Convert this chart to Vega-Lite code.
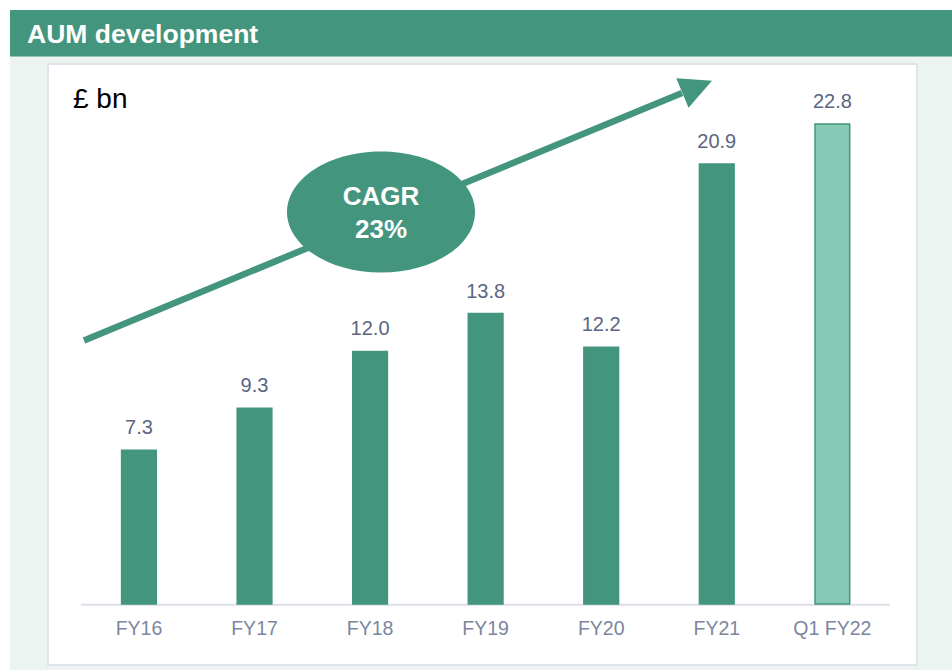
{
  "$schema": "https://vega.github.io/schema/vega-lite/v6.json",
  "width": 942,
  "height": 660,
  "padding": {"left": 10, "top": 10, "right": 0, "bottom": 0},
  "autosize": {"type": "none"},
  "background": "#ffffff",
  "config": {
    "view": {"fill": "#ebf4f0", "stroke": null},
    "font": "Liberation Sans",
    "text": {"font": "Liberation Sans"}
  },
  "layer": [
    {
      "data": {"values": [{}]},
      "layer": [
        {
          "mark": {"type": "rect", "fill": "#43957d"},
          "encoding": {
            "x": {"datum": -1.1162, "type": "quantitative", "scale": {"domain": [-1.1162, 7.0347], "nice": false, "zero": false}, "axis": null},
            "x2": {"datum": 7.0347},
            "y": {"datum": 28.2185, "type": "quantitative", "scale": {"domain": [-3.1354, 28.2185], "nice": false, "zero": false}, "axis": null},
            "y2": {"datum": 26.01}
          }
        },
        {
          "mark": {"type": "text", "text": "AUM development", "color": "#ffffff", "fontWeight": "bold", "fontSize": 26.5, "align": "left", "baseline": "alphabetic"},
          "encoding": {
            "x": {"datum": -0.9691, "type": "quantitative"},
            "y": {"datum": 26.651, "type": "quantitative"}
          }
        },
        {
          "mark": {"type": "rect", "fill": "#ffffff", "stroke": "#dfe3eb", "strokeWidth": 2},
          "encoding": {
            "x": {"datum": -0.7874, "type": "quantitative"},
            "x2": {"datum": 6.7318},
            "y": {"datum": 25.653, "type": "quantitative"},
            "y2": {"datum": -2.898}
          }
        },
        {
          "mark": {"type": "rule", "stroke": "#dcdfe7", "strokeWidth": 2},
          "encoding": {
            "x": {"datum": -0.5019, "type": "quantitative"},
            "x2": {"datum": 6.498},
            "y": {"datum": -0.03, "type": "quantitative"}
          }
        },
        {
          "mark": {"type": "text", "text": "£ bn", "color": "#000000", "fontSize": 28, "align": "left", "baseline": "alphabetic"},
          "encoding": {
            "x": {"datum": -0.5711, "type": "quantitative"},
            "y": {"datum": 23.563, "type": "quantitative"}
          }
        },
        {
          "mark": {"type": "rule", "stroke": "#43957d", "strokeWidth": 6.5, "strokeCap": "butt"},
          "encoding": {
            "x": {"datum": -0.4759, "type": "quantitative"},
            "x2": {"datum": 4.6985},
            "y": {"datum": 12.518, "type": "quantitative"},
            "y2": {"datum": 24.276}
          }
        },
        {
          "mark": {"type": "point", "shape": "M1,0L-1,-1L-1,1Z", "filled": true, "fill": "#43957d", "opacity": 1, "strokeWidth": 0, "size": 1024, "angle": -22.5},
          "encoding": {
            "x": {"datum": 4.83, "type": "quantitative"},
            "y": {"datum": 24.568, "type": "quantitative"}
          }
        },
        {
          "mark": {"type": "point", "shape": "M1,0C1,0.3557,0.5523,0.644,0,0.644C-0.5523,0.644,-1,0.3557,-1,0C-1,-0.3557,-0.5523,-0.644,0,-0.644C0.5523,-0.644,1,-0.3557,1,0Z", "filled": true, "fill": "#43957d", "opacity": 1, "strokeWidth": 0, "size": 35344},
          "encoding": {
            "x": {"datum": 2.094, "type": "quantitative"},
            "y": {"datum": 18.622, "type": "quantitative"}
          }
        },
        {
          "mark": {"type": "text", "text": "CAGR", "color": "#ffffff", "fontWeight": "bold", "fontSize": 26, "align": "center", "baseline": "alphabetic"},
          "encoding": {
            "x": {"datum": 2.094, "type": "quantitative"},
            "y": {"datum": 18.955, "type": "quantitative"}
          }
        },
        {
          "mark": {"type": "text", "text": "23%", "color": "#ffffff", "fontWeight": "bold", "fontSize": 26, "align": "center", "baseline": "alphabetic"},
          "encoding": {
            "x": {"datum": 2.094, "type": "quantitative"},
            "y": {"datum": 17.373, "type": "quantitative"}
          }
        }
      ]
    },
    {
      "data": {
        "values": [
          {"period": "FY16", "aum": 7.3, "kind": "Full year"},
          {"period": "FY17", "aum": 9.3, "kind": "Full year"},
          {"period": "FY18", "aum": 12.0, "kind": "Full year"},
          {"period": "FY19", "aum": 13.8, "kind": "Full year"},
          {"period": "FY20", "aum": 12.2, "kind": "Full year"},
          {"period": "FY21", "aum": 20.9, "kind": "Full year"},
          {"period": "Q1 FY22", "aum": 22.8, "kind": "Quarter"}
        ]
      },
      "encoding": {
        "x": {"field": "period", "type": "nominal", "sort": null, "scale": {"paddingInner": 0.7, "paddingOuter": 0.9255, "align": 0.5217}, "axis": null}
      },
      "layer": [
        {
          "mark": {"type": "bar", "stroke": "#43957d", "strokeWidth": 1.5},
          "encoding": {
            "y": {"field": "aum", "type": "quantitative", "scale": {"domain": [-3.1354, 28.2185], "nice": false, "zero": false}, "axis": null},
            "y2": {"datum": 0},
            "color": {"field": "kind", "type": "nominal", "scale": {"domain": ["Full year", "Quarter"], "range": ["#43957d", "#86c9b5"]}, "legend": null}
          }
        },
        {
          "mark": {"type": "text", "color": "#5b6581", "fontSize": 20, "align": "center", "baseline": "alphabetic", "dy": -16},
          "encoding": {
            "y": {"field": "aum", "type": "quantitative"},
            "text": {"field": "aum", "type": "quantitative", "format": ".1f"}
          }
        },
        {
          "mark": {"type": "text", "color": "#7c86a0", "fontSize": 19.5, "align": "center", "baseline": "alphabetic"},
          "encoding": {
            "y": {"datum": -1.4727, "type": "quantitative"},
            "text": {"field": "period", "type": "nominal"}
          }
        }
      ]
    }
  ],
  "resolve": {"scale": {"x": "independent"}}
}
